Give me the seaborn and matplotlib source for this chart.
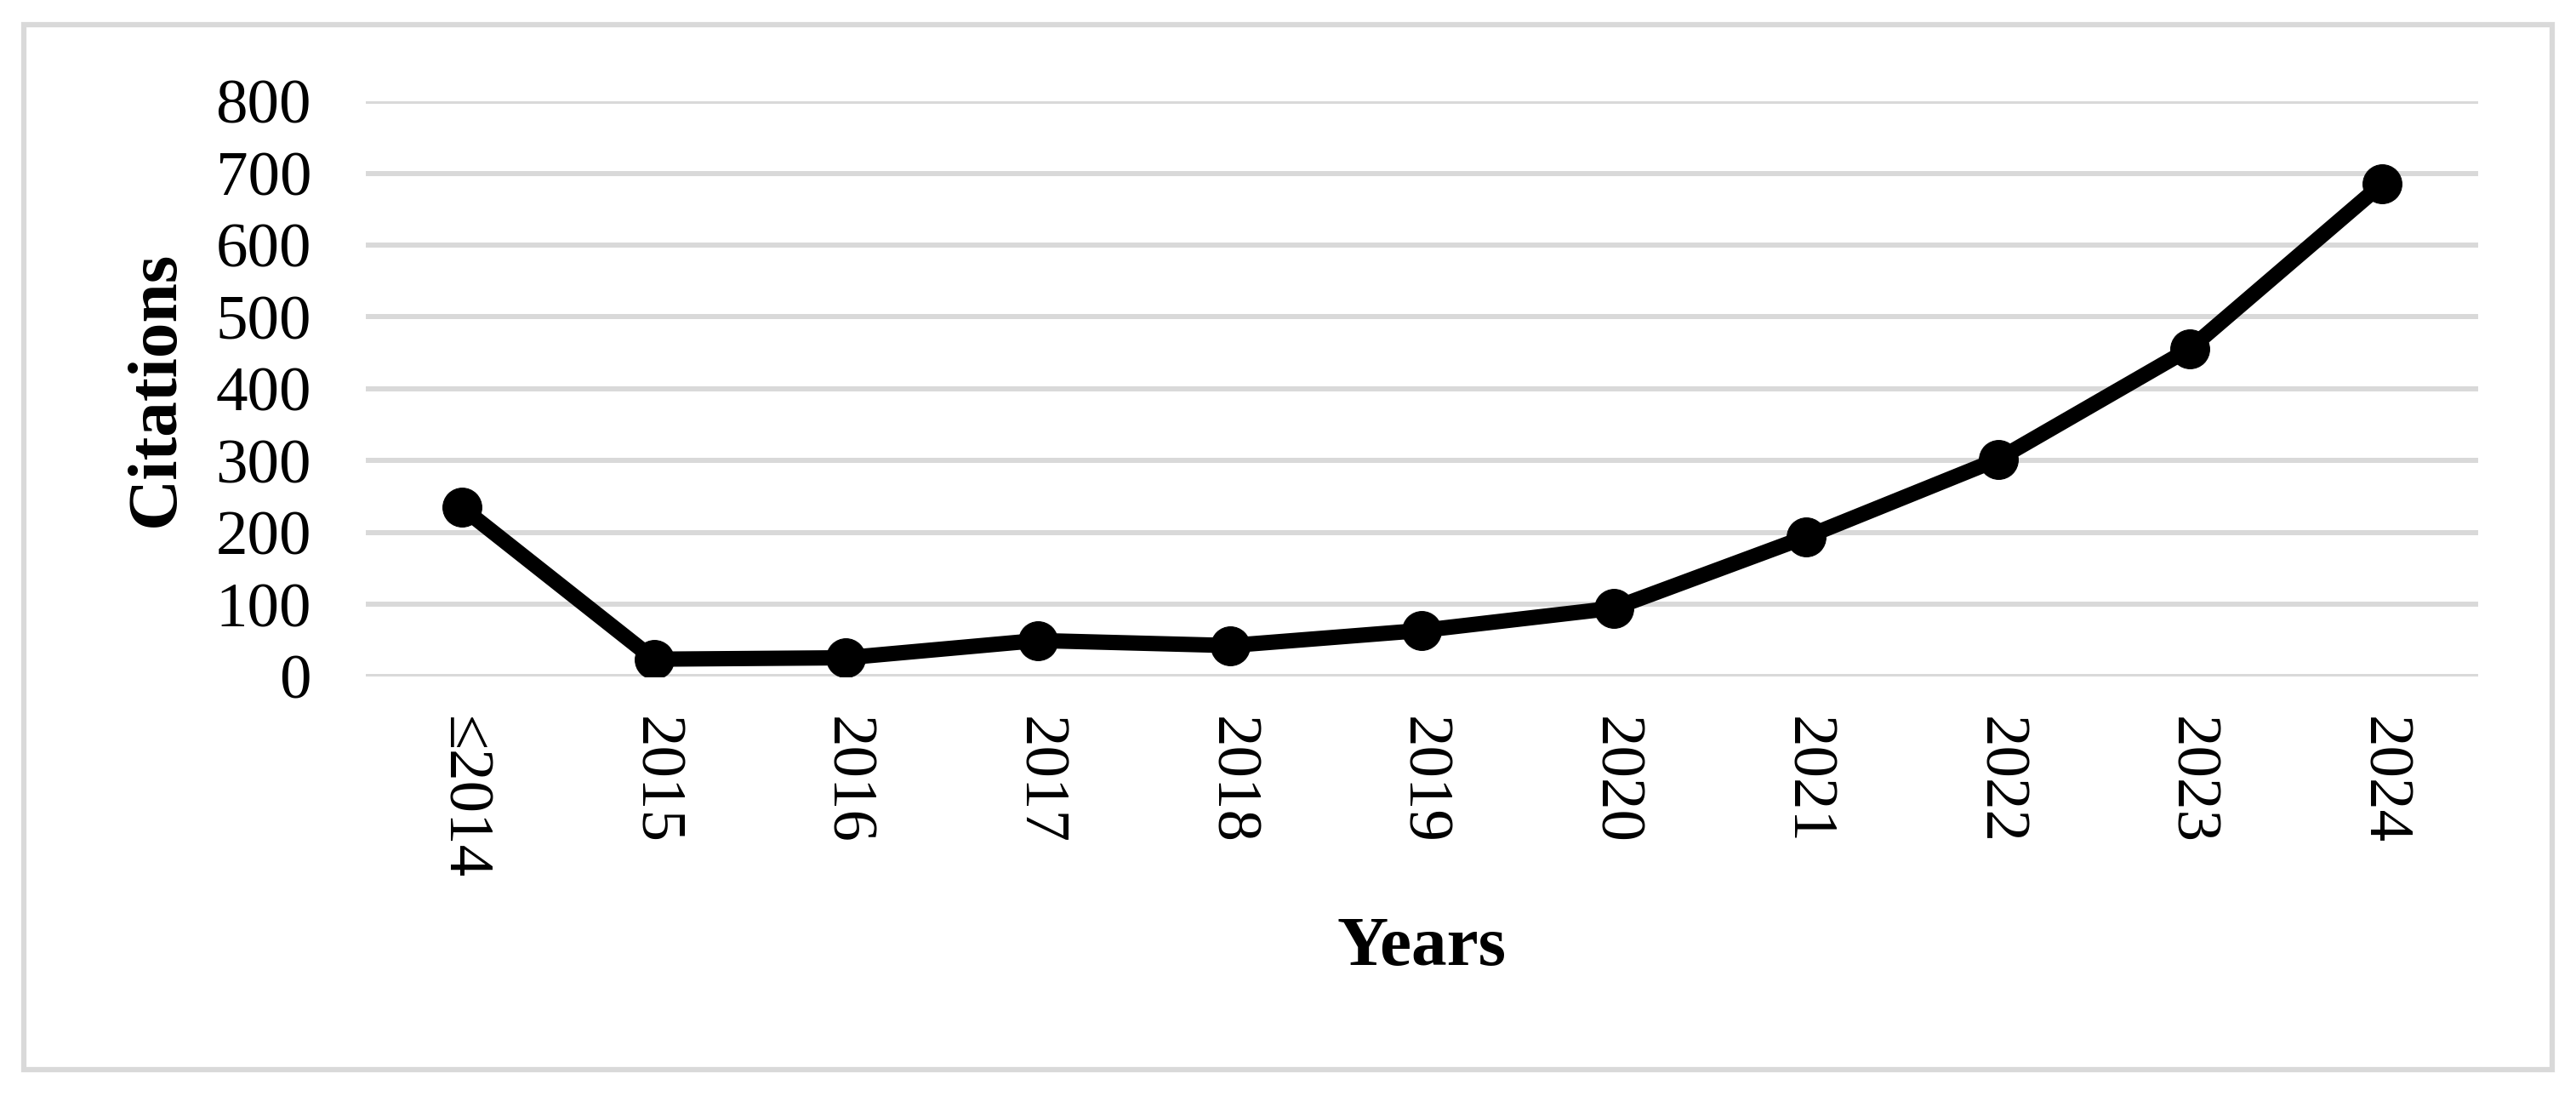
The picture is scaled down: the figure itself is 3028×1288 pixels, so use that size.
# Citations per year line chart
import matplotlib
matplotlib.use('Agg')
import matplotlib.pyplot as plt
import seaborn as sns
import pandas as pd

# Chart data
years = ['≤2014', '2015', '2016', '2017', '2018', '2019', '2020', '2021', '2022', '2023', '2024']
citations = [235, 24, 26, 50, 43, 64, 95, 194, 302, 456, 685]
y_ticks = [0, 100, 200, 300, 400, 500, 600, 700, 800]

df = pd.DataFrame({'Years': years, 'Citations': citations})

sns.set_theme(style='white')
plt.rcParams['font.family'] = ['Liberation Serif', 'DejaVu Serif']
plt.rcParams['text.color'] = 'black'
plt.rcParams['xtick.color'] = 'black'
plt.rcParams['ytick.color'] = 'black'
plt.rcParams['axes.labelcolor'] = 'black'

grid_color = '#D9D9D9'

fig = plt.figure(figsize=(30.28, 12.88), dpi=100)
ax = fig.add_axes([0.142, 0.3828, 0.820, 0.5248])

sns.lineplot(data=df, x='Years', y='Citations', ax=ax, sort=False,
             color='black', linewidth=13, marker='o', markersize=33,
             markeredgecolor='black', markerfacecolor='black', zorder=3)

ax.set_xlim(-0.5, len(years) - 0.5)
ax.set_ylim(0, 800)
ax.set_yticks(y_ticks)
ax.set_yticklabels([str(v) for v in y_ticks], fontsize=54, color='black')
ax.set_xticks(range(len(years)))
ax.set_xticklabels(years, fontsize=54, rotation=270, va='top', ha='center', color='black')
ax.tick_params(axis='y', length=0, pad=46)
ax.tick_params(axis='x', length=0, pad=34)

ax.yaxis.grid(True, color=grid_color, linewidth=4.3)
ax.xaxis.grid(False)
ax.set_axisbelow(True)
for s in ax.spines.values():
    s.set_visible(False)

ax.set_xlabel('Years', fontsize=60, fontweight='bold', color='black')
ax.set_ylabel('Citations', fontsize=60, fontweight='bold', color='black')
ax.xaxis.set_label_coords(0.5, -0.418)
ax.yaxis.set_label_coords(-0.084, 0.5)

# light grey chart border
border = plt.Rectangle((28 / 3028, 31 / 1288), 2972 / 3028, 1228 / 1288,
                       transform=fig.transFigure, fill=False,
                       edgecolor=grid_color, linewidth=4.5)
fig.patches.append(border)

fig.savefig('out.png', dpi=100, facecolor='white')
